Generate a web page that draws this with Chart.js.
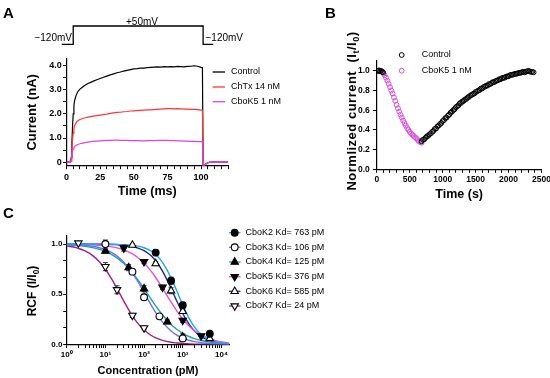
<!DOCTYPE html>
<html lang="en">
<head>
<meta charset="UTF-8">
<title>CboK block of BK current</title>
<script src="https://cdn.jsdelivr.net/npm/chart.js"></script>
<style>
    body { margin: 0; background: #fff; font-family: "Liberation Sans", Arial, sans-serif; }
    #page { position: relative; width: 550px; height: 378px; overflow: hidden; }
    canvas { position: absolute; left: 0; top: 0; }
    .txt { position: absolute; white-space: nowrap; color: #000; }
    .panel { font-weight: bold; font-size: 15px; line-height: 15px; }
    .volt { font-size: 10px; line-height: 12px; }
    .ytitle { font-weight: bold; text-align: center; transform: rotate(-90deg); }
    .ytitle sub { font-size: 70%; vertical-align: -0.3em; line-height: 0; }
</style>
</head>
<body>
<div id="page">
    <canvas id="chartProto" width="550" height="378"></canvas>
    <canvas id="chartA" width="550" height="378"></canvas>
    <canvas id="chartB" width="550" height="378"></canvas>
    <canvas id="chartC" width="550" height="378"></canvas>

    <div class="txt panel" style="left:3px; top:5px;">A</div>
    <div class="txt panel" style="left:325px; top:5px;">B</div>
    <div class="txt panel" style="left:3px; top:205px;">C</div>

    <div class="txt volt" style="left:112px; top:15.5px; width:60px; text-align:center;">+50mV</div>
    <div class="txt volt" style="left:12px; top:31.5px; width:60px; text-align:right;">&minus;120mV</div>
    <div class="txt volt" style="left:205.5px; top:31.5px;">&minus;120mV</div>

    <div class="txt ytitle" style="left:252px; top:103px; width:200px; font-size:13px; line-height:16px; letter-spacing:0.5px;">Normlized current&nbsp;&nbsp;(I<sub>t</sub>/I<sub>0</sub>)</div>
    <div class="txt ytitle" style="left:-18px; top:284px; width:100px; font-size:12px; line-height:14px;">RCF (I/I<sub>0</sub>)</div>
</div>

<script>
    // ---- panel A : current traces ----
    const aTime = [0, 1, 2, 3, 3.5, 4, 4.5, 5, 5.5, 6, 7, 8, 9, 10, 12, 14, 16, 18, 20,
        22.5, 25, 27.5, 30, 32.5, 35, 37.5, 40, 42.5, 45, 47.5, 50, 52.5, 55, 57.5, 60,
        62.5, 65, 67.5, 70, 72.5, 75, 77.5, 80, 82.5, 85, 87.5, 90, 92.5, 95, 97.5, 100,
        101, 101.5, 102, 102.5, 103, 104, 105, 106, 108, 110, 115, 120];
    const aControl = [0, 0, 0.03, 0, 0.2, 0.8, 1.5, 2.0, 2.35, 2.55, 2.75, 2.88, 2.97, 3.03, 3.12, 3.2, 3.26, 3.31, 3.36,
        3.42, 3.47, 3.52, 3.57, 3.62, 3.66, 3.71, 3.74, 3.78, 3.81, 3.84, 3.87, 3.88, 3.9, 3.9, 3.92,
        3.93, 3.94, 3.95, 3.94, 3.96, 3.95, 3.96, 3.95, 3.97, 3.96, 3.95, 3.97, 3.98, 4.0, 3.98, 3.93,
        3.92, -0.14, -0.15, -0.13, -0.1, -0.06, -0.03, -0.01, 0, 0, 0, 0];
    const aChTx = [0, 0, 0.02, 0, 0.15, 0.55, 0.95, 1.2, 1.38, 1.5, 1.62, 1.7, 1.74, 1.77, 1.81, 1.84, 1.87, 1.89, 1.91,
        1.93, 1.95, 1.97, 1.99, 2.02, 2.04, 2.06, 2.07, 2.09, 2.1, 2.12, 2.13, 2.14, 2.15, 2.16, 2.17,
        2.17, 2.18, 2.19, 2.2, 2.21, 2.22, 2.22, 2.21, 2.22, 2.21, 2.2, 2.2, 2.19, 2.19, 2.18, 2.16,
        2.15, -0.15, -0.16, -0.14, -0.1, -0.06, -0.03, -0.01, 0, 0, 0, 0];
    const aCboK5 = [0, 0, 0.01, 0, 0.05, 0.25, 0.45, 0.55, 0.6, 0.64, 0.69, 0.72, 0.74, 0.76, 0.79, 0.81, 0.83, 0.85, 0.86,
        0.87, 0.88, 0.89, 0.9, 0.9, 0.91, 0.91, 0.9, 0.9, 0.9, 0.89, 0.89, 0.89, 0.88, 0.88, 0.89,
        0.89, 0.89, 0.9, 0.9, 0.9, 0.9, 0.89, 0.89, 0.88, 0.88, 0.87, 0.87, 0.86, 0.86, 0.85, 0.85,
        0.84, -0.16, -0.17, -0.14, -0.1, -0.06, -0.03, -0.01, 0, 0, 0, 0];
    const aXTicks = [0, 5, 10, 15, 20, 25, 30, 35, 40, 45, 50, 55, 60, 65, 70, 75, 80, 85, 90, 95, 100, 105, 110, 115, 120];
    const aXMajor = [0, 25, 50, 75, 100];
    const aXLabels = ['0', '25', '50', '75', '100'];
    const aYTicks = [0, 0.5, 1, 1.5, 2, 2.5, 3, 3.5, 4];
    const aYMajor = [0, 1, 2, 3, 4];
    const aYLabels = ['0', '1.0', '2.0', '3.0', '4.0'];

    // voltage step protocol above panel A
    const protoT = [-3.5, 5, 5, 101.5, 101.5, 109];
    const protoV = [-120, -120, 50, 50, -120, -120];

    // ---- panel B : time course ----
    const bCtrlT = [5, 20, 35, 50, 65, 80, 95,
        680, 700, 720, 740, 760, 780, 800, 820, 840, 860, 880, 900, 920, 940, 960, 980,
        1000, 1020, 1040, 1060, 1080, 1100, 1120, 1140, 1160, 1180, 1200, 1220, 1240, 1260, 1280,
        1300, 1320, 1340, 1360, 1380, 1400, 1420, 1440, 1460, 1480, 1500, 1520, 1540, 1560, 1580,
        1600, 1620, 1640, 1660, 1680, 1700, 1720, 1740, 1760, 1780, 1800, 1820, 1840, 1860, 1880,
        1900, 1920, 1940, 1960, 1980, 2000, 2020, 2040, 2060, 2080, 2100, 2120, 2140, 2160, 2180,
        2200, 2220, 2240, 2260, 2280, 2300, 2320, 2340, 2360, 2380];
    const bCtrlV = [1.0, 1.0, 1.005, 0.995, 1.0, 0.99, 0.985,
        0.285, 0.3, 0.305, 0.32, 0.335, 0.34, 0.355, 0.365, 0.38, 0.39, 0.41, 0.415, 0.435, 0.445, 0.46, 0.47,
        0.49, 0.5, 0.52, 0.525, 0.545, 0.555, 0.575, 0.585, 0.6, 0.61, 0.63, 0.64, 0.65, 0.67, 0.675,
        0.69, 0.695, 0.71, 0.715, 0.73, 0.735, 0.75, 0.755, 0.765, 0.77, 0.785, 0.79, 0.8, 0.805, 0.82,
        0.82, 0.835, 0.84, 0.85, 0.85, 0.865, 0.865, 0.875, 0.885, 0.885, 0.895, 0.9, 0.905, 0.915, 0.915,
        0.925, 0.93, 0.93, 0.94, 0.945, 0.945, 0.955, 0.96, 0.96, 0.965, 0.97, 0.97, 0.975, 0.98, 0.98,
        0.985, 0.99, 0.985, 0.99, 0.995, 1.0, 0.995, 0.99, 0.99, 0.985];
    const bToxT = [100, 120, 140, 160, 180, 200, 220, 240, 260, 280, 300, 320, 340, 360, 380,
        400, 420, 440, 460, 480, 500, 520, 540, 560, 580, 600, 620, 640, 660, 680];
    const bToxV = [0.975, 0.955, 0.93, 0.9, 0.87, 0.835, 0.8, 0.77, 0.73, 0.695, 0.655, 0.62, 0.585, 0.555, 0.525,
        0.495, 0.47, 0.445, 0.42, 0.4, 0.38, 0.365, 0.35, 0.34, 0.325, 0.315, 0.3, 0.285, 0.275, 0.27];
    const bXTicks = [0, 100, 200, 300, 400, 500, 600, 700, 800, 900, 1000, 1100, 1200, 1300, 1400,
        1500, 1600, 1700, 1800, 1900, 2000, 2100, 2200, 2300, 2400, 2500];
    const bXMajor = [0, 500, 1000, 1500, 2000, 2500];
    const bXLabels = ['0', '500', '1000', '1500', '2000', '2500'];
    const bYTicks = [0, 0.2, 0.4, 0.6, 0.8, 1.0];
    const bYLabels = ['0.0', '0.2', '0.4', '0.6', '0.8', '1.0'];

    // ---- panel C : concentration-response ----
    const k2X = [200, 500, 1000, 5000];
    const k2Y = [0.915, 0.635, 0.39, 0.107];
    const k2E = [0.03, 0.035, 0.03, 0.02];
    const k3X = [10, 50, 100, 250, 1000];
    const k3Y = [1.0, 0.725, 0.47, 0.28, 0.06];
    const k3E = [0.04, 0.02, 0.03, 0.02, 0.03];
    const k4X = [10, 40, 100, 400, 1000];
    const k4Y = [0.93, 0.765, 0.555, 0.225, 0.075];
    const k4E = [0.02, 0.03, 0.03, 0.02, 0.03];
    const k5X = [30, 100, 300, 1000, 3000];
    const k5Y = [0.96, 0.825, 0.57, 0.24, 0.085];
    const k5E = [0.03, 0.02, 0.02, 0.02, 0.01];
    const k6X = [50, 200, 500, 1000, 5000];
    const k6Y = [0.99, 0.805, 0.535, 0.33, 0.06];
    const k6E = [0.01, 0.02, 0.03, 0.02, 0.01];
    const k7X = [2, 10, 20, 50, 100];
    const k7Y = [1.01, 0.775, 0.545, 0.29, 0.165];
    const k7E = [0.01, 0.04, 0.04, 0.02, 0.02];

    const cFitX = [1, 1.5, 2, 3, 5, 7, 10, 15, 20, 30, 50, 70, 100, 150, 200, 300, 500, 700,
        1000, 1500, 2000, 3000, 5000, 7000, 10000, 16000];
    const k2Fit = [1.0, 1.0, 1.0, 1.0, 1.0, 1.0, 0.999, 0.998, 0.997, 0.994, 0.987, 0.979, 0.963, 0.931, 0.895, 0.817, 0.663, 0.535,
        0.393, 0.253, 0.176, 0.101, 0.047, 0.028, 0.016, 0.008];
    const k3Fit = [0.996, 0.994, 0.992, 0.986, 0.975, 0.963, 0.944, 0.913, 0.881, 0.82, 0.711, 0.622, 0.517, 0.397, 0.318, 0.223, 0.135, 0.094,
        0.063, 0.04, 0.029, 0.018, 0.01, 0.007, 0.004, 0.002];
    const k4Fit = [0.992, 0.988, 0.984, 0.977, 0.962, 0.947, 0.926, 0.893, 0.862, 0.806, 0.714, 0.641, 0.556, 0.455, 0.385, 0.294, 0.2, 0.152,
        0.111, 0.077, 0.059, 0.04, 0.024, 0.018, 0.012, 0.008];
    const k5Fit = [0.999, 0.998, 0.997, 0.995, 0.991, 0.988, 0.982, 0.972, 0.962, 0.942, 0.902, 0.864, 0.811, 0.733, 0.667, 0.562, 0.422, 0.335,
        0.254, 0.179, 0.137, 0.092, 0.055, 0.039, 0.026, 0.016];
    const k6Fit = [1.0, 1.0, 1.0, 1.0, 0.999, 0.999, 0.998, 0.996, 0.994, 0.989, 0.976, 0.96, 0.934, 0.885, 0.833, 0.731, 0.559, 0.433,
        0.309, 0.196, 0.137, 0.079, 0.038, 0.024, 0.014, 0.007];
    const k7Fit = [0.982, 0.97, 0.957, 0.931, 0.877, 0.823, 0.749, 0.643, 0.557, 0.431, 0.285, 0.208, 0.144, 0.092, 0.066, 0.041, 0.022, 0.015,
        0.009, 0.006, 0.004, 0.002, 0.001, 0.001, 0, 0];
    const cNames = ['CboK2 Kd= 763 pM', 'CboK3 Kd= 106 pM', 'CboK4 Kd= 125 pM', 'CboK5 Kd= 376 pM', 'CboK6 Kd= 585 pM', 'CboK7 Kd= 24 pM'];

    const cXTicks = [1, 2, 3, 4, 5, 6, 7, 8, 9, 10, 20, 30, 40, 50, 60, 70, 80, 90, 100, 200, 300, 400, 500, 600, 700, 800, 900,
        1000, 2000, 3000, 4000, 5000, 6000, 7000, 8000, 9000, 10000];
    const cXMajor = [1, 10, 100, 1000, 10000];
    const cXLabels = ['10\u2070', '10\u00b9', '10\u00b2', '10\u00b3', '10\u2074'];
    const cYTicks = [0, 0.1667, 0.3333, 0.5, 0.6667, 0.8333, 1];
    const cYMajor = [0, 0.5, 1];
    const cYLabels = ['0.0', '0.5', '1.0'];

    // ---------------------------------------------------------------
    const FONT = '"Liberation Sans", Arial, sans-serif';
    Chart.defaults.font.family = FONT;
    Chart.defaults.color = '#000';
    Chart.defaults.animation = false;
    Chart.defaults.events = [];
    Chart.defaults.plugins.legend.display = false;
    Chart.defaults.plugins.tooltip.enabled = false;

    function pairs(xs, ys) {
        return xs.map((x, i) => ({ x: x, y: ys[i] }));
    }
    function setTicks(list) {
        return function (scale) { scale.ticks = list.map(v => ({ value: v })); };
    }
    function fixSize(prop, size) {
        return function (scale) {
            scale[prop] = size;
            scale.paddingLeft = scale.paddingRight = scale.paddingTop = scale.paddingBottom = 0;
        };
    }
    function labelOf(major, labels) {
        return function (value) {
            const i = major.findIndex(m => Math.abs(m - value) < 1e-6);
            return i >= 0 ? labels[i] : '';
        };
    }
    function axis(o) {
        return {
            type: o.type || 'linear',
            min: o.min, max: o.max,
            afterBuildTicks: setTicks(o.ticks),
            afterFit: fixSize(o.prop, o.size),
            grid: { drawOnChartArea: false, color: '#000', tickLength: o.tl, tickWidth: 1 },
            border: { color: '#000', width: 1.2 },
            ticks: { autoSkip: false, maxRotation: 0, padding: o.pad, font: { size: o.fs, weight: 'bold' }, callback: o.cb },
            title: o.title ? { display: true, text: o.title, padding: o.tpad, font: { size: o.tfs, weight: 'bold' } } : { display: false }
        };
    }

    // legend rows drawn on the canvas (line and/or marker + text)
    const keyRows = {
        id: 'keyRows',
        afterDraw(chart, args, o) {
            if (!o.rows) return;
            const ctx = chart.ctx;
            ctx.save();
            ctx.font = '9px ' + FONT;
            ctx.textBaseline = 'middle';
            o.rows.forEach((y, i) => {
                const ds = chart.data.datasets[i];
                if (o.x1) {
                    ctx.strokeStyle = ds.keyColor || ds.borderColor;
                    ctx.lineWidth = 1.3;
                    ctx.beginPath(); ctx.moveTo(o.x0, y); ctx.lineTo(o.x1, y); ctx.stroke();
                }
                if (o.xMark) {
                    ctx.fillStyle = ds.pointBackgroundColor;
                    ctx.strokeStyle = ds.pointBorderColor;
                    ctx.lineWidth = ds.pointBorderWidth;
                    Chart.helpers.drawPoint(ctx, {
                        pointStyle: ds.pointStyle, rotation: ds.pointRotation || 0,
                        radius: ds.pointRadius, borderWidth: ds.pointBorderWidth
                    }, o.xMark, y);
                }
                ctx.fillStyle = '#000';
                ctx.fillText(ds.label, o.xText, y);
            });
            ctx.restore();
        }
    };

    // SEM bars for panel C
    const errorBars = {
        id: 'errorBars',
        beforeDatasetDraw(chart, args) {
            const ds = chart.data.datasets[args.index];
            if (!ds.errs) return;
            const ctx = chart.ctx, x = chart.scales.x, y = chart.scales.y;
            ctx.save();
            ctx.strokeStyle = '#333';
            ctx.lineWidth = 1;
            ds.data.forEach((p, i) => {
                const px = x.getPixelForValue(p.x);
                const top = y.getPixelForValue(p.y + ds.errs[i]);
                const bot = y.getPixelForValue(p.y - ds.errs[i]);
                ctx.beginPath();
                ctx.moveTo(px, top); ctx.lineTo(px, bot);
                ctx.moveTo(px - 2.5, top); ctx.lineTo(px + 2.5, top);
                ctx.moveTo(px - 2.5, bot); ctx.lineTo(px + 2.5, bot);
                ctx.stroke();
            });
            ctx.restore();
        }
    };

    // ---- protocol ----
    new Chart(document.getElementById('chartProto'), {
        type: 'scatter',
        data: { datasets: [{ data: pairs(protoT, protoV), showLine: true, borderColor: '#000', borderWidth: 1.3, pointRadius: 0, clip: false }] },
        options: {
            responsive: false,
            layout: { padding: { left: 53.04, top: 26, right: 322, bottom: 333.7 }, autoPadding: false },
            scales: { x: { display: false, min: -10, max: 120 }, y: { display: false, min: -120, max: 50 } }
        }
    });

    // ---- panel A ----
    new Chart(document.getElementById('chartA'), {
        type: 'scatter',
        data: {
            datasets: [
                { label: 'Control', data: pairs(aTime, aControl), borderColor: '#000000', order: 3 },
                { label: 'ChTx 14 nM', data: pairs(aTime, aChTx), borderColor: '#ff3434', order: 2 },
                { label: 'CboK5 1 nM', data: pairs(aTime, aCboK5), borderColor: '#e040f0', order: 1 }
            ].map(d => Object.assign(d, { showLine: true, pointRadius: 0, borderWidth: 1.2 }))
        },
        options: {
            responsive: false,
            layout: { padding: { left: 0, top: 59, right: 322, bottom: 179 }, autoPadding: false },
            scales: {
                x: axis({ min: 0, max: 120, ticks: aXTicks, prop: 'height', size: 33.3, tl: 3.5, pad: 3, fs: 9,
                    cb: labelOf(aXMajor, aXLabels), title: 'Time (ms)', tpad: 0, tfs: 12.5 }),
                y: axis({ min: -0.15, max: 4.28, ticks: aYTicks, prop: 'width', size: 66.5, tl: 3.5, pad: 1.3, fs: 9,
                    cb: labelOf(aYMajor, aYLabels), title: 'Current (nA)', tpad: { top: 25, bottom: 0 }, tfs: 13 })
            },
            plugins: { keyRows: { rows: [72, 87, 101.7], x0: 212.7, x1: 225, xText: 231 } }
        },
        plugins: [keyRows]
    });

    // ---- panel B ----
    new Chart(document.getElementById('chartB'), {
        type: 'scatter',
        data: {
            datasets: [
                { label: 'Control', data: pairs(bCtrlT, bCtrlV), pointBorderColor: '#000000' },
                { label: 'CboK5 1 nM', data: pairs(bToxT, bToxV), pointBorderColor: '#d54ed5' }
            ].map(d => Object.assign(d, { pointStyle: 'circle', pointRadius: 2.4, pointBorderWidth: 1, pointBackgroundColor: 'rgba(0,0,0,0)' }))
        },
        options: {
            responsive: false,
            layout: { padding: { left: 300, top: 61, right: 8.5, bottom: 176 }, autoPadding: false },
            scales: {
                x: axis({ min: 0, max: 2500, ticks: bXTicks, prop: 'height', size: 32.7, tl: 3.5, pad: 1.3, fs: 8.5,
                    cb: labelOf(bXMajor, bXLabels), title: 'Time (s)', tpad: 0, tfs: 12.5 }),
                y: axis({ min: 0, max: 1.1, ticks: bYTicks, prop: 'width', size: 76.8, tl: 4, pad: 3, fs: 8.5,
                    cb: labelOf(bYTicks, bYLabels) })
            },
            plugins: { keyRows: { rows: [55, 70.7], xMark: 401.7, xText: 421.7 } }
        },
        plugins: [keyRows]
    });

    // ---- panel C ----
    const cSeries = [
        { x: k2X, y: k2Y, e: k2E, fit: k2Fit, color: '#1fa8ee', style: 'circle', rot: 0, fill: '#000' },
        { x: k3X, y: k3Y, e: k3E, fit: k3Fit, color: '#7070ee', style: 'circle', rot: 0, fill: '#fff' },
        { x: k4X, y: k4Y, e: k4E, fit: k4Fit, color: '#1ca39e', style: 'triangle', rot: 0, fill: '#000' },
        { x: k5X, y: k5Y, e: k5E, fit: k5Fit, color: '#e24ee2', style: 'triangle', rot: 180, fill: '#000' },
        { x: k6X, y: k6Y, e: k6E, fit: k6Fit, color: '#26248c', style: 'triangle', rot: 0, fill: '#fff' },
        { x: k7X, y: k7Y, e: k7E, fit: k7Fit, color: '#a21f88', style: 'triangle', rot: 180, fill: '#fff' }
    ];
    const cMarkers = cSeries.map((s, i) => ({
        label: cNames[i], data: pairs(s.x, s.y), errs: s.e, keyColor: s.color,
        pointStyle: s.style, pointRotation: s.rot, pointRadius: s.style === 'triangle' ? 4.3 : 3.4,
        pointBackgroundColor: s.fill, pointBorderColor: '#000', pointBorderWidth: 1.1, order: 0
    }));
    const cCurves = cSeries.map(s => ({
        data: pairs(cFitX, s.fit), showLine: true, borderColor: s.color, borderWidth: 1.4,
        pointRadius: 0, cubicInterpolationMode: 'monotone', order: 1
    }));

    new Chart(document.getElementById('chartC'), {
        type: 'scatter',
        data: { datasets: cMarkers.concat(cCurves) },
        options: {
            responsive: false,
            layout: { padding: { left: 0, top: 236, right: 320.7, bottom: 0 }, autoPadding: false },
            scales: {
                x: axis({ type: 'logarithmic', min: 1, max: 16000, ticks: cXTicks, prop: 'height', size: 33.5, tl: 3.5, pad: 2, fs: 8,
                    cb: labelOf(cXMajor, cXLabels), title: 'Concentration (pM)', tpad: 0, tfs: 11 }),
                y: axis({ min: 0, max: 1.08, ticks: cYTicks, prop: 'width', size: 66.7, tl: 3.5, pad: 0.8, fs: 8,
                    cb: labelOf(cYMajor, cYLabels) })
            },
            plugins: { keyRows: { rows: [232.7, 247.3, 262, 276.7, 291.3, 306], x0: 229, x1: 240.5, xMark: 234.7, xText: 245.5 } }
        },
        plugins: [keyRows, errorBars]
    });
</script>
</body>
</html>
